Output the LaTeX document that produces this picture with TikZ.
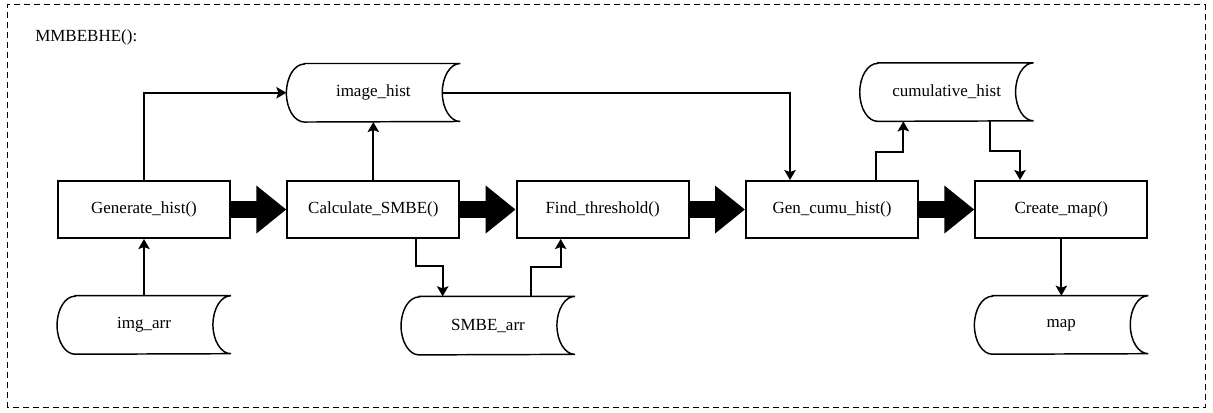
\documentclass[tikz,border=0pt]{standalone}
\usepackage{fontspec}
\setmainfont{Liberation Serif}
\usetikzlibrary{positioning, arrows.meta, calc}

\tikzset{
  proc/.style={draw, line width=1.5pt, minimum width=129pt, minimum height=42.75pt, inner sep=0pt},
  store/.style={minimum width=130pt, minimum height=43.5pt, inner sep=0pt,
    append after command={\pgfextra{\draw[line width=1.1pt]
      ([xshift=13.5pt]\tikzlastnode.north west) -- (\tikzlastnode.north east)
      arc[start angle=90, end angle=270, x radius=13.5pt, y radius=21.75pt]
      -- ([xshift=13.5pt]\tikzlastnode.south west)
      arc[start angle=270, end angle=90, x radius=13.5pt, y radius=21.75pt] -- cycle;}}},
  flow/.style={line width=1.5pt, -{Stealth[length=7.5pt, width=8.5pt, inset=1.5pt]}},
  bigflow/.style={line width=12.75pt, -{Triangle[length=22.5pt, width=34.5pt]}},
}

\begin{document}
\begin{tikzpicture}[node distance = 41.5pt, font=\fontsize{12.75}{15}\selectfont]
    \useasboundingbox (0,0) rectangle (909.75pt,309.75pt);
    \draw[line width=0.75pt, dash pattern=on 4.5pt off 3pt] (5.25pt,3.75pt) rectangle (903.75pt,306pt);
    \node[anchor=west, inner sep=0pt] (title) at (26.25pt,282pt) {MMBEBHE():};

    \node[proc] (gen) at (108pt,152.6pt) {Generate\_hist()};
    \node[proc, right=of gen] (calc) {Calculate\_SMBE()};
    \node[proc, right=of calc] (find) {Find\_threshold()};
    \node[proc, right=of find] (cumu) {Gen\_cumu\_hist()};
    \node[proc, right=of cumu] (map) {Create\_map()};

    \coordinate (m23) at ($(calc.south)!0.5!(find.south)$);
    \coordinate (m45) at ($(cumu.north)!0.5!(map.north)$);

    \node[store, above=43.5pt of calc] (ihist) {image\_hist};
    \node[store, above=44pt of m45] (chist) {cumulative\_hist};
    \node[store, below=42.5pt of gen] (iarr) {img\_arr};
    \node[store, below=43pt of m23] (sarr) {SMBE\_arr};
    \node[store, below=42.5pt of map] (omap) {map};

    % main chain
    \draw[bigflow] (gen) -- (calc);
    \draw[bigflow] (calc) -- (find);
    \draw[bigflow] (find) -- (cumu);
    \draw[bigflow] (cumu) -- (map);

    % data
    \draw[flow] (iarr) -- (gen);
    \draw[flow] (gen) |- (ihist);
    \draw[flow] (calc) -- (ihist);
    \draw[flow] ([xshift=-13.5pt]ihist.east) -| ([xshift=-31.5pt]cumu.north);
    \draw[flow] ([xshift=32pt]calc.south) -- ++(0,-20pt) -| ([xshift=-34pt]sarr.north);
    \draw[flow] ([xshift=32pt]sarr.north) -- ++(0,22pt) -| ([xshift=-31.5pt]find.south);
    \draw[flow] ([xshift=33pt]cumu.north) -- ++(0,21pt) -| ([xshift=-32.5pt]chist.south);
    \draw[flow] ([xshift=32.5pt]chist.south) -- ++(0,-22pt) -| ([xshift=-31pt]map.north);
    \draw[flow] (map) -- (omap);
\end{tikzpicture}
\end{document}
